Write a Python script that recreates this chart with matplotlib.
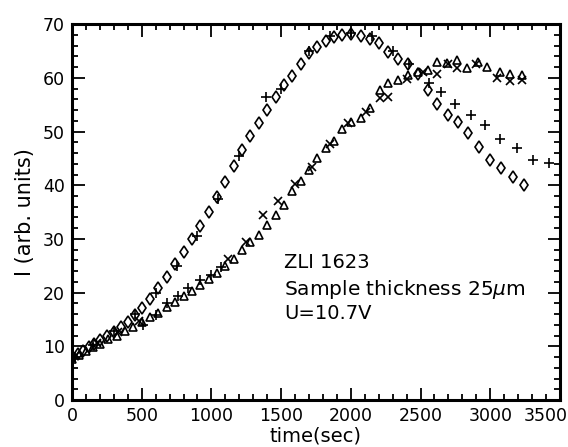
import matplotlib
matplotlib.use("Agg")
import matplotlib.pyplot as plt
from matplotlib.ticker import MultipleLocator, FuncFormatter

# group A: fast rise, peak near 2000 s
diamond_t = [0, 40, 80, 120, 160, 200, 250, 300, 350, 400, 450, 500, 560, 620, 680, 740,
             800, 860, 920, 980, 1040, 1100, 1160, 1220, 1280, 1340, 1400, 1460, 1520, 1580,
             1640, 1700, 1760, 1820, 1880, 1940, 2000, 2070, 2140, 2200, 2270, 2340, 2410,
             2480, 2550, 2620, 2700, 2770, 2840, 2920, 3000, 3080, 3160, 3240]
diamond_i = [7.8, 8.5, 9.2, 9.9, 10.5, 11.1, 11.9, 12.7, 13.6, 14.6, 15.8, 17.1, 18.8, 20.8,
             23.0, 25.3, 27.6, 29.9, 32.4, 35.0, 37.8, 40.6, 43.5, 46.5, 49.2, 51.6, 54.0,
             56.5, 58.6, 60.4, 62.6, 64.7, 65.8, 66.8, 67.6, 68.0, 68.2, 67.8, 67.3, 66.5,
             64.8, 63.5, 62.5, 60.8, 57.7, 55.2, 53.0, 51.8, 49.7, 47.1, 44.7, 43.2, 41.5, 40.0]

plus_t = [20, 150, 300, 450, 600, 750, 900, 1050, 1200, 1390, 1500, 1700, 1850, 2000, 2150,
          2300, 2420, 2560, 2650, 2750, 2860, 2960, 3070, 3190, 3310, 3420]
plus_i = [8.0, 10.2, 12.9, 16.0, 20.0, 25.0, 30.5, 37.5, 45.5, 56.4, 58.0, 65.0, 67.8, 68.4,
          67.8, 65.0, 62.5, 59.0, 57.4, 55.1, 53.1, 51.2, 48.7, 46.9, 44.7, 44.1]

# group B: slower rise, peak near 2700 s
tri_t = [0, 50, 100, 150, 200, 260, 320, 380, 440, 500, 560, 620, 680, 740, 800, 860, 920,
         980, 1040, 1100, 1160, 1220, 1280, 1340, 1400, 1460, 1520, 1580, 1640, 1700, 1760,
         1820, 1880, 1940, 2000, 2070, 2140, 2210, 2270, 2340, 2410, 2480, 2550, 2620, 2690,
         2760, 2830, 2910, 2980, 3070, 3140, 3230]
tri_i = [7.6, 8.4, 9.2, 9.9, 10.5, 11.3, 12.0, 12.8, 13.6, 14.5, 15.4, 16.3, 17.3, 18.3,
         19.3, 20.4, 21.4, 22.5, 23.7, 25.0, 26.3, 27.9, 29.4, 30.8, 32.6, 34.5, 36.4, 39.0,
         40.8, 42.8, 45.0, 47.0, 48.2, 50.4, 51.8, 52.6, 54.3, 57.7, 59.0, 59.6, 60.5, 61.1,
         61.4, 63.0, 62.7, 63.3, 61.8, 63.0, 62.0, 61.1, 60.8, 60.5]

cross_t = [30, 180, 330, 480, 1120, 1250, 1370, 1480, 1600, 1720, 1850, 1980, 2110, 2210,
           2270, 2400, 2520, 2620, 2700, 2760, 2900, 3050, 3140, 3230]
cross_i = [8.3, 10.6, 12.6, 14.8, 26.3, 29.5, 34.4, 37.0, 40.2, 43.4, 47.6, 51.5, 53.6, 56.2,
           56.4, 59.8, 61.0, 60.7, 62.5, 61.8, 62.6, 60.0, 59.5, 59.6]

bplus_t = [510, 600, 680, 760, 830, 920, 1000, 1070]
bplus_i = [14.0, 15.8, 18.0, 19.4, 20.8, 22.3, 23.3, 24.8]

x_max = 3500

plt.rcParams["font.family"] = ["DejaVu Sans"]

fig = plt.figure(figsize=(5.68, 4.47), dpi=100)
ax = fig.add_axes([0.1268, 0.105, 0.859, 0.841])

style = dict(color="black", linestyle="none", markerfacecolor="none", markeredgewidth=1.2)
ax.plot(diamond_t, diamond_i, marker="d", markersize=6, **style)
ax.plot(plus_t, plus_i, marker="+", markersize=7.5, **style)
ax.plot(tri_t, tri_i, marker="^", markersize=5.5, **style)
ax.plot(cross_t, cross_i, marker="x", markersize=5.5, **style)
ax.plot(bplus_t, bplus_i, marker="+", markersize=7.5, **style)

ax.set_xlim(0, x_max)
ax.set_ylim(0, 70)
ax.xaxis.set_major_locator(MultipleLocator(500))
ax.xaxis.set_minor_locator(MultipleLocator(100))
ax.yaxis.set_major_locator(MultipleLocator(10))
ax.yaxis.set_minor_locator(MultipleLocator(2))
# the last label is drawn by hand so it can sit inside the figure
ax.xaxis.set_major_formatter(FuncFormatter(lambda v, p: "" if v >= x_max else f"{v:.0f}"))
ax.tick_params(which="both", direction="in", top=True, right=True, width=1.3,
               labelsize=12.5, pad=5)
ax.tick_params(which="major", length=9)
ax.tick_params(which="minor", length=4.5)
for spine in ax.spines.values():
    spine.set_linewidth(2.2)

ax.annotate(f"{x_max}", xy=(x_max, 0), xycoords="data", xytext=(-10, -5),
            textcoords="offset points", ha="center", va="top", fontsize=12.5)

ax.set_xlabel("time(sec)", fontsize=14, labelpad=1)
ax.set_ylabel("I (arb. units)", fontsize=15, labelpad=6)

ax.text(0.434, 0.367, "ZLI 1623", transform=ax.transAxes, fontsize=14, va="center")
ax.text(0.434, 0.295, r"Sample thickness 25$\mu$m", transform=ax.transAxes, fontsize=14.5,
        va="center")
ax.text(0.434, 0.231, "U=10.7V", transform=ax.transAxes, fontsize=14, va="center")

fig.savefig("out.png", dpi=100)
